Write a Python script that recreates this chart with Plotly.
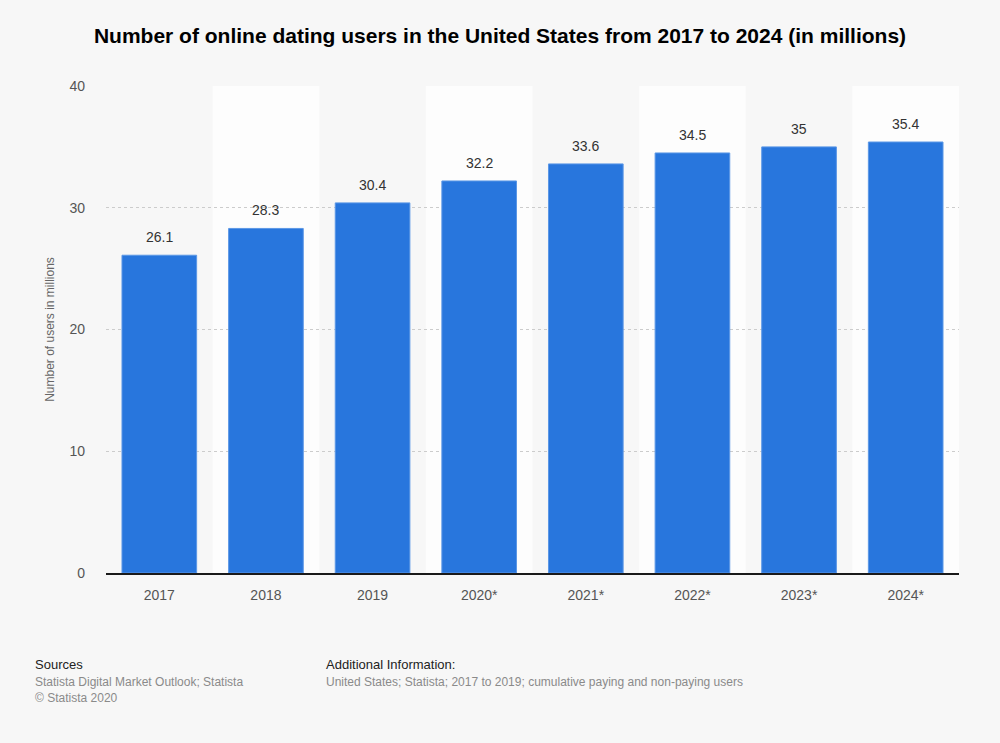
import plotly.graph_objects as go

years = ["2017", "2018", "2019", "2020*", "2021*", "2022*", "2023*", "2024*"]
users = [26.1, 28.3, 30.4, 32.2, 33.6, 34.5, 35, 35.4]
y_ticks = [0, 10, 20, 30, 40]

font = "Liberation Sans, Arial, sans-serif"

fig = go.Figure()
fig.add_trace(go.Bar(
    x=years, y=users,
    marker=dict(color="#2876dd", line=dict(color="#5b97e6", width=1)),
    width=0.7,
    hoverinfo="x+y",
))

# value labels above the bars (x given as category index, "2017" would be read as a number)
for i, v in enumerate(users):
    fig.add_annotation(x=i, y=v, text=str(v), showarrow=False,
                       yanchor="bottom", yshift=8,
                       font=dict(size=14, color="#333333", family=font))

# white bands behind every second category
for i in range(1, len(years), 2):
    fig.add_shape(type="rect", xref="x", yref="y",
                  x0=i - 0.5, x1=i + 0.5, y0=0, y1=max(y_ticks),
                  fillcolor="#fdfdfd", line=dict(width=0), layer="below")

fig.update_layout(
    width=1000, height=743,
    paper_bgcolor="#f7f7f7", plot_bgcolor="#f7f7f7",
    margin=dict(l=106, r=41, t=86, b=170),
    showlegend=False,
    title=dict(text="<b>Number of online dating users in the United States from 2017 to 2024 (in millions)</b>",
               x=0.5, xanchor="center", y=0.952, yanchor="middle",
               font=dict(size=21, color="#000000", family=font)),
    font=dict(family=font),
)
fig.update_xaxes(
    type="category",
    showgrid=False, showline=True, linecolor="#1a1a1a", linewidth=1.5,
    ticks="", ticklabelstandoff=8, tickfont=dict(size=14, color="#555555"),
    range=[-0.5, len(years) - 0.5],
)
fig.update_yaxes(
    range=[0, 40], tickvals=y_ticks,
    showgrid=True, gridcolor="#cccccc", griddash="dot", gridwidth=1,
    zeroline=False, showline=False, ticks="", ticklabelstandoff=20,
    tickfont=dict(size=14, color="#555555"),
    title=dict(text="Number of users in millions", font=dict(size=12, color="#666666"), standoff=12),
)

fig.add_annotation(text="Sources", xref="paper", yref="paper", x=-0.086, y=-0.187,
                   xanchor="left", yanchor="middle", showarrow=False,
                   font=dict(size=13, color="#222222"))
fig.add_annotation(text="Statista Digital Market Outlook; Statista<br>© Statista 2020",
                   xref="paper", yref="paper", x=-0.086, y=-0.205,
                   xanchor="left", yanchor="top", showarrow=False, align="left",
                   font=dict(size=12, color="#8a8a8a"))
fig.add_annotation(text="Additional Information:", xref="paper", yref="paper", x=0.255, y=-0.187,
                   xanchor="left", yanchor="middle", showarrow=False,
                   font=dict(size=13, color="#222222"))
fig.add_annotation(text="United States; Statista; 2017 to 2019; cumulative paying and non-paying users",
                   xref="paper", yref="paper", x=0.255, y=-0.205,
                   xanchor="left", yanchor="top", showarrow=False, align="left",
                   font=dict(size=12, color="#8a8a8a"))

fig.write_html("out.html", config={"displayModeBar": False},
               post_script="document.body.style.margin='0';")
